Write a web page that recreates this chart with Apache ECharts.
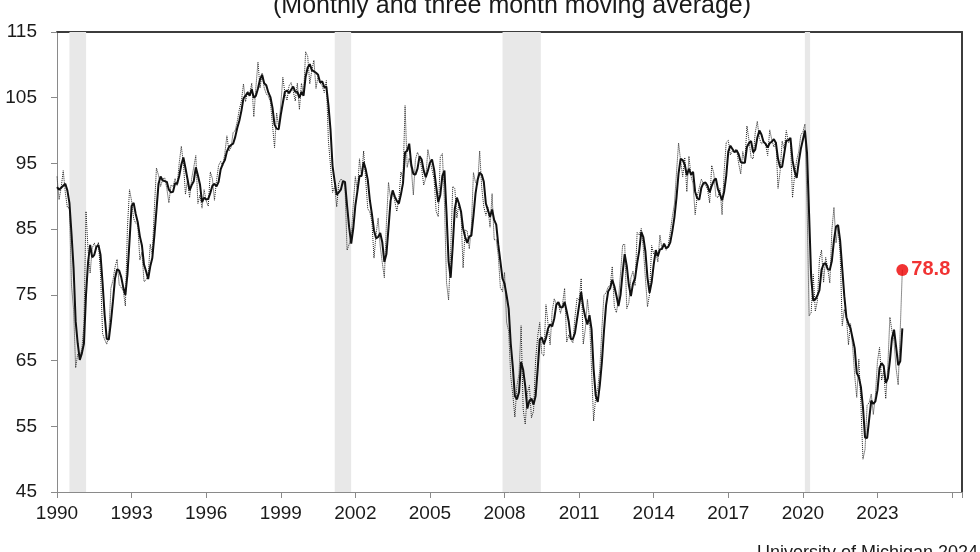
<!DOCTYPE html>
<html>
<head>
<meta charset="utf-8">
<script src="https://cdn.jsdelivr.net/npm/echarts@6/dist/echarts.min.js"></script>
<style>
html,body{margin:0;padding:0;background:#fff;}
#chart{width:980px;height:552px;}
</style>
</head>
<body>
<div id="chart"></div>
<script>
// Monthly index, Jan 1990 .. Jan 2024
var startYear = 1990;
var monthly = [
93.0,89.5,91.3,93.9,90.6,88.3,88.2,76.4,72.8,63.9,66.0,65.5,
66.8,70.4,87.7,81.8,78.3,82.1,82.9,82.0,83.0,78.3,69.1,68.2,
67.5,68.8,76.0,77.2,79.2,80.4,76.6,76.1,75.6,73.3,85.3,91.0,
89.3,86.6,85.9,85.6,80.3,81.5,77.0,77.3,77.9,82.7,81.2,88.2,
94.3,93.2,91.5,92.6,92.8,91.2,89.0,91.7,91.5,92.7,91.6,95.1,
97.6,95.1,90.3,92.5,89.8,92.7,94.4,96.2,88.9,90.2,88.2,91.0,
89.3,88.5,93.7,92.7,89.4,92.4,94.7,95.3,94.7,96.5,99.2,96.9,
97.4,99.7,100.0,101.4,103.2,104.5,107.1,104.4,106.0,105.6,107.2,102.1,
106.6,110.4,106.5,108.7,106.5,105.6,105.2,104.4,100.9,97.4,102.7,100.5,
103.9,108.1,105.7,104.6,106.8,107.3,106.0,104.5,107.2,103.2,107.2,105.4,
112.0,111.3,107.1,109.2,110.7,106.4,108.3,107.3,106.8,105.8,107.6,98.4,
94.7,90.6,91.5,88.4,92.0,92.6,92.4,91.5,81.8,82.7,83.9,88.8,
93.0,90.7,95.7,93.0,96.9,92.4,88.1,87.6,86.1,80.6,84.2,86.7,
82.4,79.9,77.6,86.0,92.1,89.7,90.9,89.3,87.7,89.6,93.7,92.6,
103.8,94.4,95.8,94.2,90.2,95.6,96.7,95.9,94.2,91.7,92.8,97.1,
95.5,94.1,92.6,87.7,86.9,96.0,96.5,89.1,76.9,74.2,81.6,91.5,
91.2,86.7,88.9,87.4,79.1,84.9,84.7,82.0,85.4,93.6,92.1,91.7,
96.9,91.3,88.4,87.1,88.3,85.3,90.4,83.4,83.4,80.9,76.1,75.5,
78.4,70.8,69.5,62.6,59.8,56.4,61.2,63.0,70.3,57.6,55.3,60.1,
61.2,56.3,57.3,65.1,68.7,70.8,66.0,65.7,73.5,70.6,67.4,72.5,
74.4,73.6,73.6,72.2,73.6,76.0,67.8,68.9,68.2,67.7,71.6,74.5,
74.2,77.5,67.5,69.8,74.3,71.5,63.7,55.8,59.5,60.8,63.7,69.9,
75.0,75.3,76.2,76.4,79.3,73.2,72.3,74.3,78.3,82.6,82.7,72.9,
73.8,77.6,78.6,76.4,84.5,84.1,85.1,82.1,77.5,73.2,75.1,82.5,
81.2,81.6,80.0,84.1,81.9,82.5,81.8,82.5,84.6,86.9,88.8,93.6,
98.1,95.4,93.0,95.9,90.7,96.1,93.1,91.9,87.2,90.0,91.3,92.6,
92.0,91.7,91.0,89.0,94.7,93.5,90.0,89.8,91.2,87.2,93.8,98.2,
98.5,96.3,96.9,97.0,97.1,95.0,93.4,96.8,95.1,100.7,98.5,95.9,
95.7,99.7,101.4,98.8,98.0,98.2,97.9,96.2,100.1,98.6,97.5,98.3,
91.2,93.8,98.4,97.2,100.0,98.2,98.4,89.8,93.2,95.5,96.8,99.3,
99.8,101.0,89.1,71.8,72.3,78.1,72.5,74.1,80.4,81.8,76.9,80.7,
79.0,76.8,84.9,88.3,82.9,85.5,81.2,70.3,72.8,71.7,67.4,70.6,
67.2,62.8,59.4,65.2,58.4,50.0,51.5,58.2,58.6,59.9,56.8,59.7,
64.9,67.0,62.0,63.5,59.2,64.2,71.6,69.5,67.9,63.8,61.3,69.7,
78.8
];

// Three month moving average, Jan 1990 .. Jan 2024
var movingAvg = [
91.4,91.0,91.3,91.6,91.9,90.9,89.0,84.3,79.1,71.0,67.6,65.1,
66.1,67.6,75.0,80.0,82.6,80.7,81.1,82.3,82.6,81.1,76.8,71.9,
68.3,68.2,70.8,74.0,77.5,78.9,78.7,77.7,76.1,75.0,78.1,83.2,
88.5,89.0,87.3,86.0,83.9,82.5,79.6,78.6,77.4,79.3,80.6,84.0,
87.9,91.9,93.0,92.4,92.3,92.2,91.0,90.6,90.7,92.0,91.9,93.1,
94.8,95.9,94.3,92.6,90.9,91.7,92.3,94.4,93.2,91.8,89.1,89.8,
89.5,89.6,90.5,91.6,91.9,91.5,92.2,94.1,94.9,95.5,96.8,97.5,
97.8,98.0,99.0,100.4,101.5,103.0,104.9,105.3,105.8,105.3,106.3,105.0,
105.3,106.4,107.8,108.5,107.2,106.9,105.8,105.1,103.5,100.9,100.3,100.2,
102.4,104.2,105.9,106.1,105.7,106.2,106.7,105.9,105.9,105.0,105.9,105.3,
108.2,109.6,110.1,109.2,109.0,108.8,108.5,107.3,107.5,106.6,106.7,103.9,
100.2,94.6,92.3,90.2,90.6,91.0,92.3,92.2,88.6,85.3,82.8,85.1,
88.6,90.8,93.1,93.1,95.2,94.1,92.5,89.4,87.3,84.8,83.6,83.8,
84.4,83.0,80.0,81.2,85.2,89.3,90.9,90.0,89.3,88.9,90.3,92.0,
96.7,96.9,98.0,94.8,93.4,93.3,94.2,96.1,95.6,93.9,92.9,93.9,
95.1,95.6,94.1,91.5,89.1,90.2,93.1,93.9,87.5,80.1,77.6,82.4,
88.1,89.8,88.9,87.7,85.1,83.8,82.9,83.9,84.0,87.0,90.4,92.5,
93.6,93.3,92.2,88.9,87.9,86.9,88.0,86.4,85.7,82.6,80.1,77.5,
76.7,74.9,72.9,67.6,64.0,59.6,59.1,60.2,64.8,63.6,61.1,57.7,
58.9,59.2,58.3,59.6,63.7,68.2,68.5,67.5,68.4,69.9,70.5,70.2,
71.4,73.5,73.9,73.1,73.1,73.9,72.5,70.9,68.3,68.3,69.2,71.3,
73.4,75.4,73.1,71.6,70.5,71.9,69.8,63.7,59.7,58.7,61.3,64.8,
69.5,73.4,75.5,76.0,77.3,76.3,74.9,73.3,75.0,78.4,81.2,79.4,
76.5,74.8,76.7,77.5,79.8,81.7,84.6,83.8,81.6,77.6,75.3,76.9,
79.6,81.8,80.9,81.9,82.0,82.8,82.1,82.3,83.0,84.7,86.8,89.8,
93.5,95.7,95.5,94.8,93.2,94.2,93.3,93.7,90.7,89.7,89.5,91.3,
92.0,92.1,91.6,90.6,91.6,92.4,92.7,91.1,90.3,89.4,90.7,93.1,
96.8,97.7,97.2,96.7,97.0,96.4,95.2,95.1,95.1,97.5,98.1,98.4,
96.7,97.1,98.9,100.0,99.4,98.3,98.0,97.4,98.1,98.3,98.7,98.1,
95.7,94.4,94.5,96.5,98.5,98.5,98.9,95.5,93.8,92.8,95.2,97.2,
98.6,100.0,96.6,87.3,77.7,74.1,74.3,74.9,75.7,78.8,79.7,79.8,
78.9,78.8,80.2,83.3,85.4,85.6,83.2,79.0,74.8,71.6,70.6,69.9,
68.4,66.9,63.1,62.5,61.0,57.9,53.3,53.2,56.1,58.9,58.4,58.8,
60.5,63.9,64.6,64.2,61.6,62.3,65.0,68.4,69.7,67.1,64.3,64.9,
69.9
];

// Recession periods (decimal years)
var recessions = [[1990.5, 1991.17], [2001.17, 2001.83], [2007.92, 2009.46], [2020.08, 2020.29]];

// Tick labels
var xTickLabels = ['1990','1993','1996','1999','2002','2005','2008','2011','2014','2017','2020','2023'];
var yTickLabels = ['45','55','65','75','85','95','105','115'];

var titleText = '(Monthly and three month moving average)';
var sourceText = 'University of Michigan 2024';

function toPoints(arr) {
  return arr.map(function (v, i) { return [startYear + i / 12, v]; });
}
var monthlyPts = toPoints(monthly);
var maPts = toPoints(movingAvg);
var lastPt = monthlyPts[monthlyPts.length - 1];

var font = '"Liberation Sans", Arial, sans-serif';
var chart = echarts.init(document.getElementById('chart'), null, {renderer: 'canvas'});
chart.setOption({
  animation: false,
  backgroundColor: '#ffffff',
  grid: {left: 57, right: 18, top: 32, bottom: 60, containLabel: false},
  xAxis: [{
    type: 'value', min: 1990, max: 2026.4, interval: 3,
    axisLine: {show: true, lineStyle: {color: '#8a8a8a', width: 1}},
    axisTick: {show: true, length: 6, lineStyle: {color: '#8a8a8a'}},
    splitLine: {show: false},
    axisLabel: {
      margin: 12, fontFamily: font, fontSize: 19, color: '#1a1a1a',
      formatter: function (v) { var s = String(Math.round(v)); return (Math.abs(v - Math.round(v)) < 1e-6 && xTickLabels.indexOf(s) >= 0) ? s : ''; }
    }
  }, {
    type: 'value', position: 'top', min: 1990, max: 2026.4,
    axisLine: {show: true, onZero: false, lineStyle: {color: '#3c3c3c', width: 2}},
    axisTick: {show: false}, axisLabel: {show: false}, splitLine: {show: false}
  }],
  yAxis: [{
    type: 'value', min: 45, max: 115, interval: 10,
    axisLine: {show: true, lineStyle: {color: '#8a8a8a', width: 1}},
    axisTick: {show: true, length: 6, lineStyle: {color: '#8a8a8a'}},
    splitLine: {show: false},
    axisLabel: {
      margin: 20, fontFamily: font, fontSize: 19, color: '#1a1a1a',
      formatter: function (v) { var s = String(v); return yTickLabels.indexOf(s) >= 0 ? s : ''; }
    }
  }, {
    type: 'value', position: 'right', min: 45, max: 115,
    axisLine: {show: true, onZero: false, lineStyle: {color: '#3c3c3c', width: 2}},
    axisTick: {show: false}, axisLabel: {show: false}, splitLine: {show: false}
  }],
  series: [{
    name: 'Monthly', type: 'line', data: monthlyPts, showSymbol: false, symbol: 'none',
    lineStyle: {color: '#222222', width: 1, type: 'dotted'},
    z: 2,
    markArea: {
      silent: true,
      itemStyle: {color: '#e8e8e8'},
      data: recessions.map(function (r) { return [{xAxis: r[0]}, {xAxis: r[1]}]; })
    }
  }, {
    name: 'Three month moving average', type: 'line', data: maPts, showSymbol: false, symbol: 'none',
    lineStyle: {color: '#111111', width: 2},
    z: 3
  }, {
    name: 'Latest', type: 'scatter', data: [lastPt], symbol: 'circle', symbolSize: 12,
    itemStyle: {color: '#ee0000'}, z: 4,
    label: {
      show: true, position: 'right', distance: 3,
      fontFamily: font, fontSize: 20, fontWeight: 'bold', color: '#ee0000',
      formatter: function (p) { return p.value[1].toFixed(1); }
    }
  }],
  graphic: [{
    type: 'text', x: 512, y: 6,
    style: {text: titleText, fontFamily: font, fontSize: 25, fill: '#1a1a1a', textAlign: 'center', textVerticalAlign: 'middle'}
  }, {
    type: 'text', x: 757, y: 553,
    style: {text: sourceText, fontFamily: font, fontSize: 18, fill: '#1a1a1a', textAlign: 'left', textVerticalAlign: 'middle'}
  }]
});
</script>
</body>
</html>
